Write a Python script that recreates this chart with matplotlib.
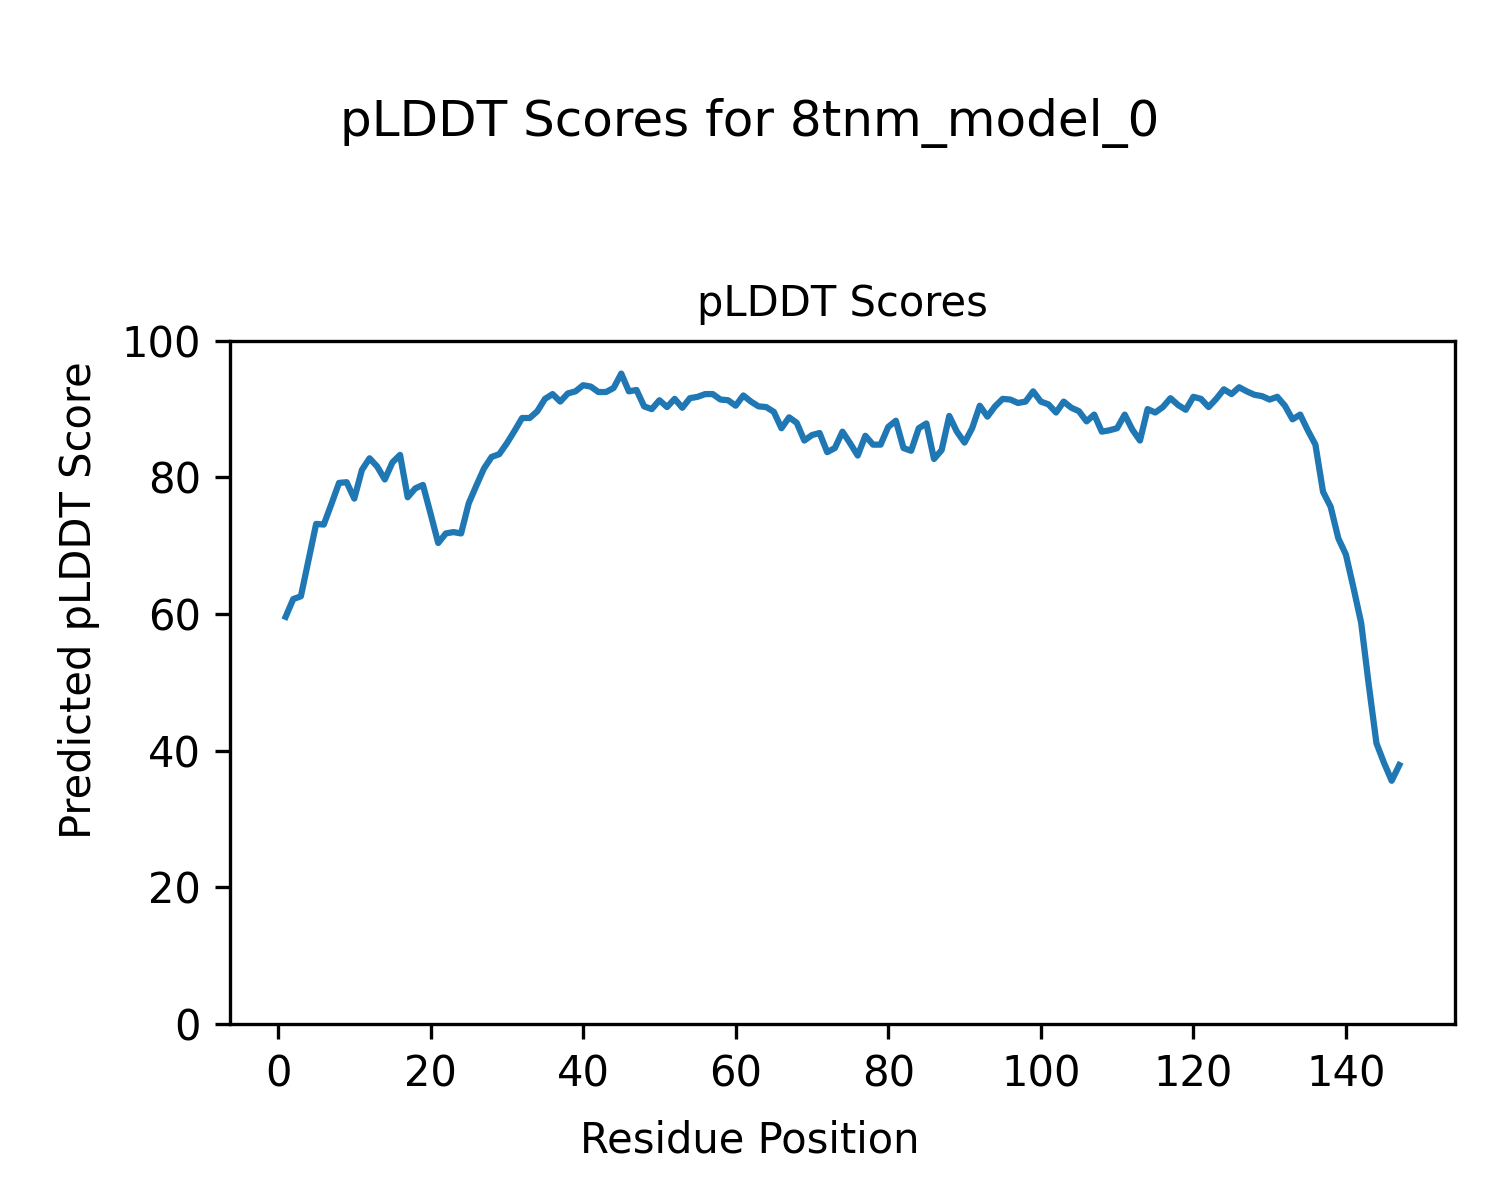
import numpy as np
import matplotlib
matplotlib.use("Agg")
import matplotlib.pyplot as plt

model_name = "8tnm_model_0"

# pLDDT per residue
plddt = [
    59.6, 62.2, 62.6, 67.9, 73.2, 73.1, 76.1, 79.2, 79.3, 76.9,
    81.1, 82.8, 81.6, 79.7, 82.2, 83.3, 77.1, 78.4, 78.9, 74.7,
    70.4, 71.8, 72.0, 71.8, 76.2, 78.8, 81.3, 83.0, 83.4, 85.0,
    86.8, 88.7, 88.7, 89.7, 91.5, 92.2, 91.1, 92.3, 92.6, 93.5,
    93.3, 92.5, 92.5, 93.1, 95.2, 92.6, 92.8, 90.4, 90.0, 91.3,
    90.3, 91.5, 90.2, 91.6, 91.8, 92.2, 92.2, 91.4, 91.3, 90.5,
    92.0, 91.1, 90.4, 90.3, 89.6, 87.2, 88.8, 88.0, 85.4, 86.2,
    86.5, 83.7, 84.3, 86.7, 85.0, 83.2, 86.1, 84.8, 84.8, 87.4,
    88.3, 84.3, 83.9, 87.2, 87.9, 82.7, 84.0, 89.0, 86.7, 85.1,
    87.2, 90.5, 88.9, 90.4, 91.5, 91.4, 90.9, 91.1, 92.6, 91.1,
    90.7, 89.5, 91.1, 90.2, 89.7, 88.2, 89.2, 86.7, 86.9, 87.2,
    89.2, 87.0, 85.4, 90.0, 89.5, 90.3, 91.6, 90.6, 89.9, 91.8,
    91.5, 90.3, 91.5, 92.9, 92.2, 93.2, 92.6, 92.1, 91.9, 91.4,
    91.8, 90.5, 88.5, 89.2, 86.9, 84.8, 77.9, 75.7, 71.1, 68.7,
    63.8, 58.7, 49.6, 41.1, 38.2, 35.6, 37.9,
]
residues = np.arange(1, len(plddt) + 1)

fig, ax = plt.subplots(figsize=(5, 4), dpi=300)
ax.plot(residues, plddt, color="#1f77b4", linewidth=1.5)
ax.set_ylim(0, 100)
ax.set_title("pLDDT Scores", fontsize=10)
# figure-level axis labels, centred on the figure
fig.text(0.5, 0.0392, "Residue Position", ha="center", va="baseline", fontsize=10)
fig.text(0.053, 0.5, "Predicted pLDDT Score", ha="center", va="center",
         rotation=90, fontsize=10)
fig.suptitle(f"pLDDT Scores for {model_name}", fontsize=12, y=0.918, va="top")
plt.subplots_adjust(left=0.1533, right=0.97, bottom=0.1467, top=0.716)
plt.savefig("out.png", dpi=300)
